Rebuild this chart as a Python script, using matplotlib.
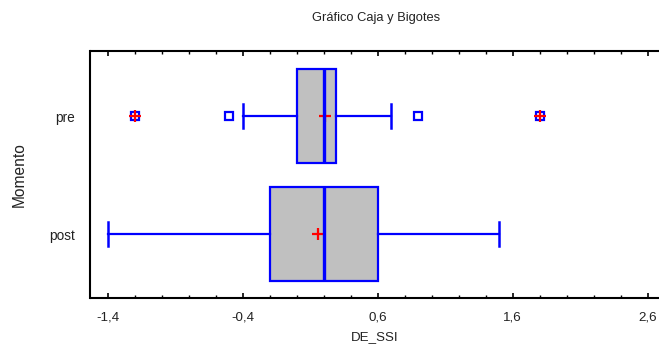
import matplotlib
matplotlib.use("Agg")
import matplotlib.pyplot as plt
from matplotlib.ticker import MultipleLocator, FixedLocator, FuncFormatter

plt.rcParams['font.family'] = ['Liberation Sans', 'DejaVu Sans']

# Data
groups = ["post", "pre"]
q1 = [-0.20, 0.00]
median = [0.205, 0.207]
q3 = [0.60, 0.295]
whisker_low = [-1.40, -0.40]
whisker_high = [1.50, 0.70]
means = [0.16, 0.21]
outliers_post = []
outliers_pre = [-1.20, -0.50, 0.90, 1.80]
far_outliers_pre = [-1.20, 1.80]

xticks_major = [-1.4, -0.4, 0.6, 1.6, 2.6]

fig = plt.figure(figsize=(6.59, 3.5), dpi=100)
ax = fig.add_axes([90.5 / 659, 52 / 350, 1 - 90.5 / 659, (298 - 51) / 350])

stats = []
fl = [outliers_post, outliers_pre]
for i, g in enumerate(groups):
    stats.append(dict(label=g, q1=q1[i], med=median[i], q3=q3[i],
                      whislo=whisker_low[i], whishi=whisker_high[i],
                      mean=means[i], fliers=fl[i]))

blue = '#0000FF'
positions = list(range(len(groups)))
ax.bxp(stats, positions=positions, vert=False, widths=0.8, patch_artist=True,
       showmeans=True, capwidths=0.2,
       boxprops=dict(facecolor='#C0C0C0', edgecolor=blue, linewidth=1.6),
       whiskerprops=dict(color=blue, linewidth=1.6),
       capprops=dict(color=blue, linewidth=1.8),
       medianprops=dict(color=blue, linewidth=2.4, zorder=4),
       meanprops=dict(marker='+', markeredgecolor='red', markersize=8,
                      markeredgewidth=1.6, zorder=3),
       flierprops=dict(marker='s', markerfacecolor='white', markeredgecolor=blue,
                       markersize=6, markeredgewidth=1.6))

# far outliers marked with red plus
ax.plot(far_outliers_pre, [positions[1]] * len(far_outliers_pre), linestyle='none',
        marker='+', markeredgecolor='red', markersize=8, markeredgewidth=1.6, zorder=5)

ax.set_xlim(-1.526, 2.685)
ax.set_ylim(-0.54, 1.553)

ax.xaxis.set_major_locator(FixedLocator(xticks_major))
ax.xaxis.set_minor_locator(MultipleLocator(0.2))
ax.xaxis.set_major_formatter(FuncFormatter(lambda v, p: f"{v:.1f}".replace('.', ',')))
ax.tick_params(axis='x', which='both', direction='in', top=True, bottom=True,
               labelsize=9.6, colors='#222222', pad=10)
ax.tick_params(axis='x', which='major', length=3.5, width=1.2, color='black')
ax.tick_params(axis='x', which='minor', length=2, width=1.0, color='black')

ax.set_yticks(positions)
ax.set_yticklabels(groups)
ax.tick_params(axis='y', length=0, labelsize=9.8, pad=11, colors='#222222')

for s in ['left', 'top', 'bottom']:
    ax.spines[s].set_linewidth(1.5)
    ax.spines[s].set_color('black')
ax.spines['right'].set_visible(False)

ax.set_xlabel("DE_SSI", fontsize=9.6, color='#222222', labelpad=5)
ax.set_ylabel("Momento", fontsize=11.2, color='#222222', labelpad=16)
fig.text(376 / 659, 1 - 18 / 350, "Gráfico Caja y Bigotes", ha='center', va='center',
         fontsize=9.3, color='#222222')

fig.savefig("out.png", dpi=100)
